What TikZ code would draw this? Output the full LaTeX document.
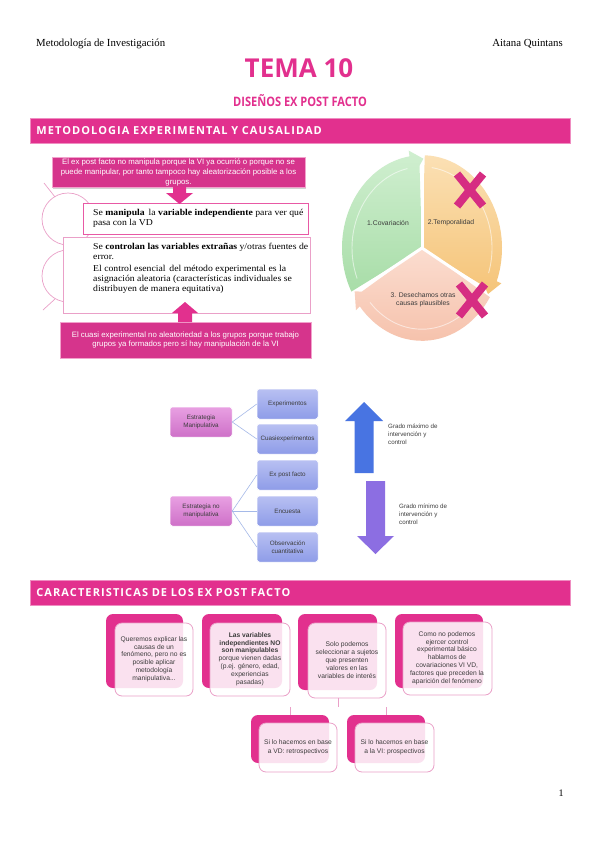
\documentclass[tikz,border=0pt]{standalone}
\usepackage{fontspec}
\setmainfont{Liberation Serif}
\newfontfamily\osb{Open Sans}
\newfontfamily\oscond[FakeStretch=0.85]{Open Sans}
\newfontfamily\barfont[LetterSpace=10]{Open Sans}
\newfontfamily\arial{Liberation Sans}
\newfontfamily\serifw[FakeStretch=1.08]{Liberation Serif}
\usetikzlibrary{shadows}
\definecolor{pinkM}{RGB}{226,48,142}
\definecolor{pinkBox}{RGB}{214,52,140}
\definecolor{pinkLine}{RGB}{234,160,200}
\definecolor{pinkLight}{RGB}{251,229,241}
\definecolor{xmag}{RGB}{214,45,130}
\definecolor{txtg}{RGB}{60,60,60}
\definecolor{conn}{RGB}{165,185,232}
\definecolor{blueA}{RGB}{72,116,226}
\definecolor{purA}{RGB}{140,110,226}
\definecolor{grnT}{RGB}{208,239,208}
\definecolor{grnB}{RGB}{168,221,168}
\definecolor{orgT}{RGB}{251,224,180}
\definecolor{orgB}{RGB}{245,196,120}
\definecolor{salT}{RGB}{251,221,208}
\definecolor{salB}{RGB}{246,194,172}
\definecolor{mauT}{RGB}{232,160,226}
\definecolor{mauB}{RGB}{206,112,200}
\definecolor{lavT}{RGB}{184,192,242}
\definecolor{lavB}{RGB}{142,156,232}
\newcommand{\cycseg}[4]{%
  \shade[top color=#3, bottom color=#4]
    (0,0) -- ({#1-2}:80) arc[start angle={#1-2}, end angle={#2+9}, radius=80]
    -- ({#2+9}:85) -- ({#2-1}:77) -- ({#2+2}:71) -- cycle;
  \draw[white, opacity=0.55, line width=0.9] ({#1-8}:70) arc[start angle={#1-8}, end angle={#2+12}, radius=70];
}
\begin{document}
\begin{tikzpicture}[x=1pt,y=-1pt,
  bar/.style={fill=pinkM, draw=pinkM!55, line width=0.6, text=white,
    font=\barfont\bfseries\fontsize{11}{12}\selectfont, minimum height=25pt,
    text width=528pt, inner xsep=6pt, align=left, anchor=north west},
  pinkbox/.style={fill=pinkBox, draw=pinkM!45, line width=0.6, text=white,
    font=\arial\fontsize{7.8}{9.6}\selectfont, align=center, inner sep=0pt,
    drop shadow={opacity=0.35, shadow xshift=1.2pt, shadow yshift=-1.2pt}},
  wbox/.style={fill=white, line width=0.8, inner sep=0pt, anchor=north west},
  serif8/.style={font=\serifw\fontsize{9}{10}\selectfont, align=left, anchor=north west, inner sep=0pt, text=black},
  lbox/.style={rounded corners=2.5pt, top color=mauT, bottom color=mauB,
    draw=white, line width=0.5, minimum width=62pt, minimum height=30pt, inner sep=0pt,
    align=center, font=\arial\fontsize{6.3}{8}\selectfont, text=txtg},
  rbox/.style={rounded corners=2.5pt, top color=lavT, bottom color=lavB,
    draw=white, line width=0.5, minimum width=61pt, minimum height=30pt, inner sep=0pt,
    align=center, font=\arial\fontsize{6.3}{8}\selectfont, text=txtg},
  cline/.style={conn, line width=0.6},
  backbox/.style={fill=pinkM, rounded corners=7pt},
  frontbox/.style={fill=white, fill opacity=0.86, draw=pinkLine, line width=0.8, rounded corners=7pt},
  ctext/.style={font=\arial\fontsize{6.7}{7.8}\selectfont, align=center, text=txtg, inner sep=0pt},
  tline/.style={pinkLine, line width=0.7},
  xmark/.style={xmag, line width=8pt},
  cyclab/.style={font=\arial\fontsize{6.8}{8}\selectfont, text=txtg, align=center, inner sep=0pt},
  atext/.style={font=\arial\fontsize{6.2}{7.8}\selectfont, text=txtg, align=left, anchor=north west, inner sep=0pt}
]
\useasboundingbox (0,0) rectangle (599,848);
\fill[white] (0,0) rectangle (599,848);

% header
\node[anchor=base west, font=\fontsize{10.8}{13}\selectfont, inner sep=0pt] (hl) at (36,47) {Metodología de Investigación};
\node[anchor=base east, font=\fontsize{10.8}{13}\selectfont, inner sep=0pt] (hr) at (563,47) {Aitana Quintans};
\node[font=\osb\bfseries\fontsize{26}{30}\selectfont, text=pinkM, inner sep=0pt] (tema) at (299,68) {TEMA 10};
\node[font=\oscond\bfseries\fontsize{13}{14}\selectfont, text=pinkM, inner sep=0pt] (sub) at (300,101) {DISEÑOS EX POST FACTO};

% section 1
\node[bar] (bar1) at (30,118) {METODOLOGIA EXPERIMENTAL Y CAUSALIDAD};

% circles
\draw[tline] (68,219) circle (26);
\draw[tline] (68,276) circle (26);
\draw[tline] (44,183) -- (55,197);
\draw[tline] (43,310) -- (55,299);

% boxes left
\node[wbox, draw=pinkM!80, minimum width=225pt, minimum height=31pt] (m1) at (83,203) {};
\node[wbox, draw=pinkLine, minimum width=247pt, minimum height=76pt] (m2) at (63,237) {};
\node[serif8] (m1t) at (93,209) {Se \textbf{manipula}\, la \textbf{variable independiente} para ver qué\\ pasa con la VD};
\node[serif8] (m2t) at (93,243) {Se \textbf{controlan las variables extrañas} y/otras fuentes de\\ error.\\[2pt]
 El control esencial\, del método experimental es la\\ asignación aleatoria (características individuales se\\ distribuyen de manera equitativa)};

\node[pinkbox, minimum width=253pt, minimum height=30pt] (p1) at (178.5,172.5)
 {El ex post facto no manipula porque la VI ya ocurrió o porque no se\\ puede manipular, por tanto tampoco hay aleatorización posible a los\\ grupos.};
\node[pinkbox, minimum width=251pt, minimum height=36pt] (p2) at (185.5,340)
 {El cuasi experimental no aleatoriedad a los grupos porque trabajo\\ grupos ya formados pero sí hay manipulación de la VI};

\fill[pinkM] (173,187) -- (186,187) -- (186,193) -- (193,193) -- (179.5,204) -- (166,193) -- (173,193) -- cycle;
\fill[pinkM] (185,302) -- (198,313) -- (192,313) -- (192,322) -- (178,322) -- (178,313) -- (172,313) -- cycle;

% cycle
\begin{scope}[shift={(422,248)}, yscale=-1.16]
  \cycseg{210}{90}{grnT}{grnB}
  \cycseg{90}{-30}{orgT}{orgB}
  \cycseg{330}{210}{salT}{salB}
  \draw[white, line width=3] (0,0) -- (90:72);
  \draw[white, line width=3] (0,0) -- (210:72);
  \draw[white, line width=3] (0,0) -- (330:72);
\end{scope}
\node[cyclab] (c1) at (388,223) {1.Covariación};
\node[cyclab] (c2) at (451,223) {2.Temporalidad};
\node[cyclab] (c3) at (423,300) {3. Desechamos otras\\ causas plausibles};
\draw[xmark] (457,174) -- (483,206);
\draw[xmark] (483,174) -- (457,206);
\draw[xmark] (459,284) -- (485,316);
\draw[xmark] (485,284) -- (459,316);

% middle diagram
\node[lbox] (s1) at (201,422) {Estrategia\\ Manipulativa};
\node[lbox] (s2) at (201,511) {Estrategia no\\ manipulativa};
\node[rbox] (e1) at (287.5,404) {Experimentos};
\node[rbox] (e2) at (287.5,439) {Cuasiexperimentos};
\node[rbox] (e3) at (287.5,475) {Ex post facto};
\node[rbox] (e4) at (287.5,511) {Encuesta};
\node[rbox] (e5) at (287.5,547) {Observación\\ cuantitativa};
\draw[cline] (s1.east) -- (e1.west);
\draw[cline] (s1.east) -- (e2.west);
\draw[cline] (s2.east) -- (e3.west);
\draw[cline] (s2.east) -- (e4.west);
\draw[cline] (s2.east) -- (e5.west);

% arrows
\fill[blueA] (364,402) -- (383,421) -- (373.5,421) -- (373.5,473) -- (354.5,473) -- (354.5,421) -- (345,421) -- cycle;
\fill[purA] (366,481) -- (385,481) -- (385,536) -- (394,536) -- (375.5,554) -- (357,536) -- (366,536) -- cycle;
\node[atext] (g1) at (388,424) {Grado máximo de\\ intervención y\\ control};
\node[atext] (g2) at (399,504) {Grado mínimo de\\ intervención y\\ control};

% section 2
\node[bar] (bar2) at (30,580) {CARACTERISTICAS DE LOS EX POST FACTO};

\fill[backbox] (106,614) rectangle (183,688);
\fill[backbox] (202,614) rectangle (282,688);
\fill[backbox] (298,614) rectangle (377,690);
\fill[backbox] (395,614) rectangle (483,688);
\filldraw[frontbox] (115,623) rectangle (193,696);
\filldraw[frontbox] (210,623) rectangle (290,696);
\filldraw[frontbox] (308,623) rectangle (386,698);
\filldraw[frontbox] (403,622) rectangle (492,695);
\node[ctext] (ka) at (154,659) {Queremos explicar las\\ causas de un\\ fenómeno, pero no es\\ posible aplicar\\ metodología\\ manipulativa...};
\node[ctext] (kb) at (250,659) {\textbf{Las variables}\\ \textbf{independientes NO}\\ \textbf{son manipulables}\\ porque vienen dadas\\ (p.ej. género, edad,\\ experiencias\\ pasadas)};
\node[ctext] (kc) at (347,660) {Solo podemos\\ seleccionar a sujetos\\ que presenten\\ valores en las\\ variables de interés};
\node[ctext] (kd) at (447,658) {Como no podemos\\ ejercer control\\ experimental básico\\ hablamos de\\ covariaciones VI VD,\\ factores que preceden la\\ aparición del fenómeno};

\fill[backbox] (251,715) rectangle (329,763);
\fill[backbox] (347,715) rectangle (425,763);
\filldraw[frontbox] (259,723) rectangle (337,772);
\filldraw[frontbox] (355,723) rectangle (434,772);
\node[ctext, font=\arial\fontsize{6.7}{9}\selectfont] (ch1) at (298,747.5) {Si lo hacemos en base\\ a VD: retrospectivos};
\node[ctext, font=\arial\fontsize{6.7}{9}\selectfont] (ch2) at (394.5,747.5) {Si lo hacemos en base\\ a la VI: prospectivos};

\coordinate (kcb) at (338,698);
\coordinate (kcj) at (338,707);
\coordinate (l1t) at (290,715);
\coordinate (l1j) at (290,707);
\coordinate (l2t) at (386,715);
\coordinate (l2j) at (386,707);
\draw[tline] (kcb) -- (kcj);
\draw[tline] (l1t) -- (l1j);
\draw[tline] (l2t) -- (l2j);

\node[font=\fontsize{10}{12}\selectfont, inner sep=0pt] (pg) at (561,793) {1};
\end{tikzpicture}
\end{document}
